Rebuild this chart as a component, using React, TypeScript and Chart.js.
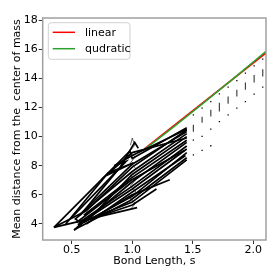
import React, { useEffect, useRef } from "react";
import { Chart, registerables } from "chart.js";
Chart.register(...registerables);

const FONT = "'DejaVu Sans', sans-serif";

const xTicks = [0.5, 1.0, 1.5, 2.0];
const yTicks = [4, 6, 8, 10, 12, 14, 16, 18];

const linearX = [1.1, 2.105];
const linearY = [9.15, 15.74];
const quadX = [1.1, 1.35, 1.6, 1.85, 2.105];
const quadY = [9.1, 10.72, 12.38, 14.08, 15.85];

// black trajectories (x, y)
const traj1 = [[0.353, 3.77], [1.04, 5.12]];
const traj2 = [[0.353, 3.77], [0.62, 4.9], [1.0, 7.9], [1.45, 10.45]];
const traj3 = [[0.52, 3.58], [0.58, 4.05], [0.53, 4.35], [1.0, 7.6], [1.45, 10.2]];
const traj4 = [[0.52, 3.58], [1.0, 6.9], [1.45, 9.6]];
const traj5 = [[0.45, 4.0], [0.8, 7.5], [1.01, 8.2], [0.78, 7.3], [1.0, 8.9], [1.45, 9.9]];
const traj6 = [[0.55, 3.95], [1.0, 6.4], [1.45, 9.15]];
const traj7 = [[0.6, 4.1], [1.0, 5.9], [1.45, 8.9]];
const traj8 = [[0.62, 4.25], [1.0, 5.5], [1.45, 8.4]];
const traj9 = [[0.7, 4.5], [1.0, 6.0], [1.31, 7.04]];
const traj10 = [[0.75, 4.6], [1.0, 5.3], [1.2, 6.4]];
const traj11 = [[0.353, 3.77], [0.98, 9.0], [1.0, 8.5], [1.45, 10.6]];
const traj12 = [[0.57, 4.6], [0.9, 7.9], [1.02, 9.6], [1.05, 9.2]];
const traj13 = [[0.52, 3.6], [0.98, 5.6], [1.45, 8.55]];
const traj14 = [[0.55, 4.5], [1.0, 8.1], [1.45, 10.35]];
const traj15 = [[0.6, 4.6], [1.0, 7.2], [1.45, 9.75]];
const traj16 = [[0.58, 4.2], [1.0, 6.6], [1.45, 9.35]];
const traj17 = [[0.65, 4.4], [1.0, 7.4], [1.45, 10.0]];
const traj18 = [[0.5, 4.45], [0.95, 8.3], [0.85, 8.0], [1.0, 8.7], [1.45, 10.5]];
const traj19 = [[0.54, 4.1], [0.99, 7.0], [1.43, 9.05]];
const traj20 = [[0.62, 4.0], [1.0, 6.2], [1.44, 8.7]];
const hatch = [
  [0.985, 5.0], [1.025, 5.4], [0.98, 5.8], [1.03, 6.2], [0.985, 6.6], [1.025, 7.0],
  [0.98, 7.4], [1.03, 7.8], [0.985, 8.2], [1.025, 8.6], [0.98, 9.0], [1.02, 9.4],
  [1.0, 9.9], [0.985, 9.4],
];
const trajectories = [
  traj1, traj2, traj3, traj4, traj5, traj6, traj7, traj8, traj9, traj10,
  traj11, traj12, traj13, traj14, traj15, traj16, traj17, traj18, traj19, traj20,
];

// sparse columns for larger bond lengths
const colX = [1.505, 1.577, 1.649, 1.72, 1.792, 1.864, 1.935, 2.007, 2.078];
const colDots = [
  [11.49, 9.75, 8.75],
  [11.95, 10.01, 9.05],
  [12.4, 10.51, 9.37],
  [12.93, 11.03],
  [13.39, 11.49],
  [13.84, 11.95],
  [14.35, 12.4],
  [14.85, 12.91],
  [15.31, 13.39],
];
const colDashTop = [10.81, 11.36, 11.84, 12.32, 12.75, 13.21, 13.71, 14.23, 14.62];
const colDashBottom = [10.33, 10.95, 11.38, 11.72, 12.25, 12.75, 13.21, 13.71, 14.12];

const legendPlugin = {
  id: "boxLegend",
  afterDraw(chart: any) {
    const ctx = chart.ctx;
    const { left, top, right, bottom } = chart.chartArea;
    ctx.save();
    ctx.strokeStyle = "#a0a0a0";
    ctx.lineWidth = 1.5;
    ctx.strokeRect(left, top, right - left, bottom - top);
    const bx = left + 5.6, by = top + 4.7, bw = 81.7, bh = 36.6;
    ctx.beginPath();
    ctx.roundRect(bx, by, bw, bh, 3);
    ctx.fillStyle = "rgba(255,255,255,0.8)";
    ctx.fill();
    ctx.strokeStyle = "#d0d0d0";
    ctx.lineWidth = 1;
    ctx.stroke();
    const items = chart.data.datasets.filter((d: any) => d.inLegend);
    items.forEach((d: any, i: number) => {
      const y = by + 9.6 + i * 16.4;
      ctx.beginPath();
      ctx.strokeStyle = d.borderColor;
      ctx.lineWidth = 1.5;
      ctx.moveTo(bx + 4.4, y);
      ctx.lineTo(bx + 26.7, y);
      ctx.stroke();
      ctx.fillStyle = "#000";
      ctx.font = `11px ${FONT}`;
      ctx.textBaseline = "middle";
      ctx.textAlign = "left";
      ctx.fillText(d.label, bx + 36.7, y + 0.5);
    });
    ctx.restore();
  },
};

export default function App() {
  const ref = useRef<HTMLCanvasElement>(null);
  useEffect(() => {
    const toPts = (xs: number[], ys: number[]) => xs.map((x, i) => ({ x, y: ys[i] }));
    const datasets: any[] = [];
    datasets.push({
      label: "linear", inLegend: true, data: toPts(linearX, linearY), showLine: true,
      borderColor: "#ff0000", borderWidth: 1.5, pointRadius: 0, order: 10,
    });
    datasets.push({
      label: "qudratic", inLegend: true, data: toPts(quadX, quadY), showLine: true,
      borderColor: "#2ca02c", borderWidth: 1.5, pointRadius: 0, order: 9,
    });
    trajectories.forEach((t, i) => {
      datasets.push({
        label: "traj" + i, data: t.map(([x, y]) => ({ x, y })), showLine: true,
        borderColor: "#000", borderWidth: 1.7, pointRadius: 0, order: 1,
      });
    });
    datasets.push({
      label: "hatch", data: hatch.map(([x, y]) => ({ x, y })), showLine: true,
      borderColor: "#000", borderWidth: 0.6, pointRadius: 0, order: 1,
    });
    const dashPts: any[] = [];
    colX.forEach((x, i) => {
      dashPts.push({ x, y: colDashTop[i] }, { x, y: colDashBottom[i] }, { x, y: null });
    });
    datasets.push({
      label: "dashes", data: dashPts, showLine: true, spanGaps: false,
      borderColor: "#444", borderWidth: 1.2, pointRadius: 0, order: 2,
    });
    const dotPts: any[] = [];
    colX.forEach((x, i) => colDots[i].forEach((y) => dotPts.push({ x, y })));
    datasets.push({
      label: "dots", data: dotPts, showLine: false, pointStyle: "rect",
      pointRadius: 0.9, backgroundColor: "#000", borderWidth: 0, order: 2,
    });

    const tickFont = { family: FONT, size: 11 };
    const chart = new Chart(ref.current!, {
      type: "scatter",
      data: { datasets },
      options: {
        animation: false,
        responsive: false,
        layout: { padding: { left: 0, top: 18, right: 14, bottom: 0 } },
        plugins: { legend: { display: false }, tooltip: { enabled: false } },
        scales: {
          x: {
            type: "linear", min: 0.26, max: 2.105,
            afterBuildTicks: (s: any) => { s.ticks = xTicks.map((v) => ({ value: v })); },
            afterFit: (s: any) => { s.height = 40; },
            ticks: { callback: (v: any) => Number(v).toFixed(1), font: tickFont, color: "#000", padding: 0, maxRotation: 0, autoSkip: false },
            grid: { drawOnChartArea: false, drawTicks: true, tickLength: 4, tickColor: "#333" },
            border: { display: false },
            title: { display: true, text: "Bond Length, s", font: tickFont, color: "#000", padding: { top: 0, bottom: 12 } },
          },
          y: {
            type: "linear", min: 2.9, max: 18.14,
            afterBuildTicks: (s: any) => { s.ticks = yTicks.map((v) => ({ value: v })); },
            afterFit: (s: any) => { s.width = 42.7; },
            ticks: { callback: (v: any) => String(v), font: tickFont, color: "#000", padding: 1, autoSkip: false },
            grid: { drawOnChartArea: false, drawTicks: true, tickLength: 4, tickColor: "#333" },
            border: { display: false },
            title: { display: true, text: "Mean distance from the  center of mass", font: tickFont, color: "#000", padding: { top: 10.5, bottom: 0 } },
          },
        },
      },
      plugins: [legendPlugin],
    });
    return () => chart.destroy();
  }, []);
  return (
    <canvas
      ref={ref}
      width={280}
      height={280}
      style={{ position: "fixed", left: 0, top: 0, width: 280, height: 280, display: "block" }}
    />
  );
}
